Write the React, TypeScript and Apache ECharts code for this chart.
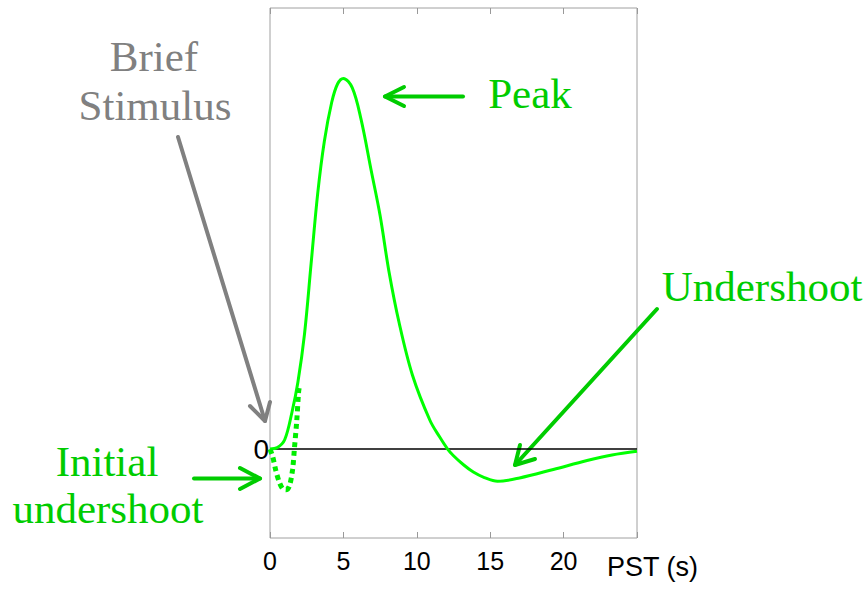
import React, { useEffect, useRef } from "react";
import * as echarts from "echarts";

// Peristimulus time (s) and response (arbitrary units, peak = 1)
const solidTime = [0, 0.5, 1.0, 1.5, 1.9, 2.35, 2.8, 3.25, 3.7, 4.2, 4.6, 5.0, 5.6, 6.2, 6.9, 7.5, 8.1, 8.8, 9.7, 10.9, 11.55, 12.1, 12.5, 13.2, 13.85, 14.6, 15.5, 17.0, 19.3, 21.6, 23.3, 25];
const solidValue = [0, 0.004, 0.025, 0.1, 0.18, 0.31, 0.5, 0.69, 0.83, 0.935, 0.985, 1.0, 0.975, 0.89, 0.75, 0.63, 0.48, 0.34, 0.2, 0.077, 0.033, 0.0, -0.018, -0.043, -0.062, -0.077, -0.087, -0.078, -0.055, -0.031, -0.016, -0.006];

const dipTime = [0, 0.18, 0.41, 0.64, 0.86, 1.08, 1.32, 1.54, 1.66, 1.82, 1.95, 2.0];
const dipValue = [0, -0.02, -0.06, -0.09, -0.107, -0.11, -0.1, -0.055, 0.0, 0.075, 0.155, 0.167];

const xTicks = [0, 5, 10, 15, 20, 25];
const xTickLabels = ["0", "5", "10", "15", "20", ""];
const yLabelValues = [0];

const GREEN_TXT = "#00cc00";
const GRAY_TXT = "#808080";
const SERIF = "Liberation Serif";
const SANS = "Liberation Sans Narrow, Liberation Sans, Arial, sans-serif";

function arrow(x1: number, y1: number, x2: number, y2: number, w1: number[], w2: number[], color: string) {
  return {
    type: "group",
    children: [
      {
        type: "line",
        shape: { x1, y1, x2, y2 },
        style: { stroke: color, lineWidth: 4, lineCap: "round" },
      },
      {
        type: "polyline",
        shape: { points: [w1, [x2, y2], w2] },
        style: { stroke: color, lineWidth: 4, lineCap: "round", lineJoin: "round", fill: null },
      },
    ],
  };
}

function label(text: string, x: number, y: number, color: string) {
  return {
    type: "text",
    x,
    y,
    style: {
      text,
      fill: color,
      fontFamily: SERIF,
      fontSize: 43,
      textAlign: "center",
      textVerticalAlign: "middle",
    },
  };
}

export default function App() {
  const ref = useRef<HTMLDivElement>(null);
  useEffect(() => {
    if (!ref.current) return;
    const chart = echarts.init(ref.current, null, { renderer: "svg" });
    const solid = solidTime.map((t, i) => [t, solidValue[i]]);
    const dip = dipTime.map((t, i) => [t, dipValue[i]]);
    const tickCommon = {
      type: "value",
      min: 0,
      max: 25,
      interval: 5,
      splitLine: { show: false },
      axisLine: { show: false, onZero: false },
      axisTick: { show: true, inside: true, length: 6, lineStyle: { color: "#999999", width: 1 } },
    };
    chart.setOption({
      animation: false,
      backgroundColor: "#ffffff",
      grid: {
        left: 270,
        top: 8,
        width: 367,
        height: 530,
        show: true,
        borderColor: "#a0a0a0",
        borderWidth: 1,
        backgroundColor: "transparent",
      },
      xAxis: [
        {
          ...tickCommon,
          position: "bottom",
          axisLabel: {
            show: true,
            margin: 10,
            fontFamily: SANS,
            fontSize: 25,
            color: "#000",
            formatter: (v: number) => xTickLabels[xTicks.indexOf(v)] ?? "",
          },
          name: "PST (s)",
          nameLocation: "end",
          nameGap: -30,
          nameTextStyle: {
            fontFamily: SANS,
            fontSize: 27,
            color: "#000",
            align: "left",
            verticalAlign: "top",
            padding: [15, 0, 0, 0],
          },
        },
        {
          ...tickCommon,
          position: "top",
          axisLabel: { show: false },
        },
      ],
      yAxis: {
        type: "value",
        min: -0.24,
        max: 1.19,
        splitLine: { show: false },
        axisLine: { show: false, onZero: false },
        axisTick: { show: false },
        axisLabel: {
          customValues: yLabelValues,
          margin: 1,
          fontFamily: SANS,
          fontSize: 28,
          color: "#000",
          formatter: (v: number) => (v === 0 ? "0" : ""),
        },
      },
      series: [
        {
          type: "line",
          data: solid,
          xAxisIndex: 0,
          smooth: 0.35,
          showSymbol: false,
          symbol: "none",
          lineStyle: { color: "#00ff00", width: 3 },
          z: 3,
          markLine: {
            silent: true,
            symbol: "none",
            label: { show: false },
            lineStyle: { color: "#000", width: 1.5, type: "solid" },
            data: [{ yAxis: 0 }],
            z: 2,
          },
        },
        {
          type: "line",
          data: dip,
          xAxisIndex: 0,
          smooth: 0.3,
          showSymbol: false,
          symbol: "none",
          lineStyle: { color: "#00ee00", width: 5, type: [5, 4] },
          z: 4,
        },
      ],
      graphic: [
        label("Brief", 154, 56, GRAY_TXT),
        label("Stimulus", 155, 105, GRAY_TXT),
        label("Peak", 530, 93, GREEN_TXT),
        label("Undershoot", 762, 286, GREEN_TXT),
        label("Initial", 107, 461, GREEN_TXT),
        label("undershoot", 108, 508, GREEN_TXT),
        arrow(178, 137, 265, 421, [250, 406], [270, 402], GRAY_TXT),
        arrow(463, 96.5, 385, 96.5, [404, 87], [404, 106], GREEN_TXT),
        arrow(657, 309, 515, 465, [520, 445], [535, 459], GREEN_TXT),
        arrow(194, 478.5, 260, 478.5, [240, 468], [240, 489], GREEN_TXT),
      ],
    });
    return () => chart.dispose();
  }, []);
  return (
    <div
      ref={ref}
      style={{ position: "fixed", left: 0, top: 0, width: 866, height: 595 }}
    />
  );
}
